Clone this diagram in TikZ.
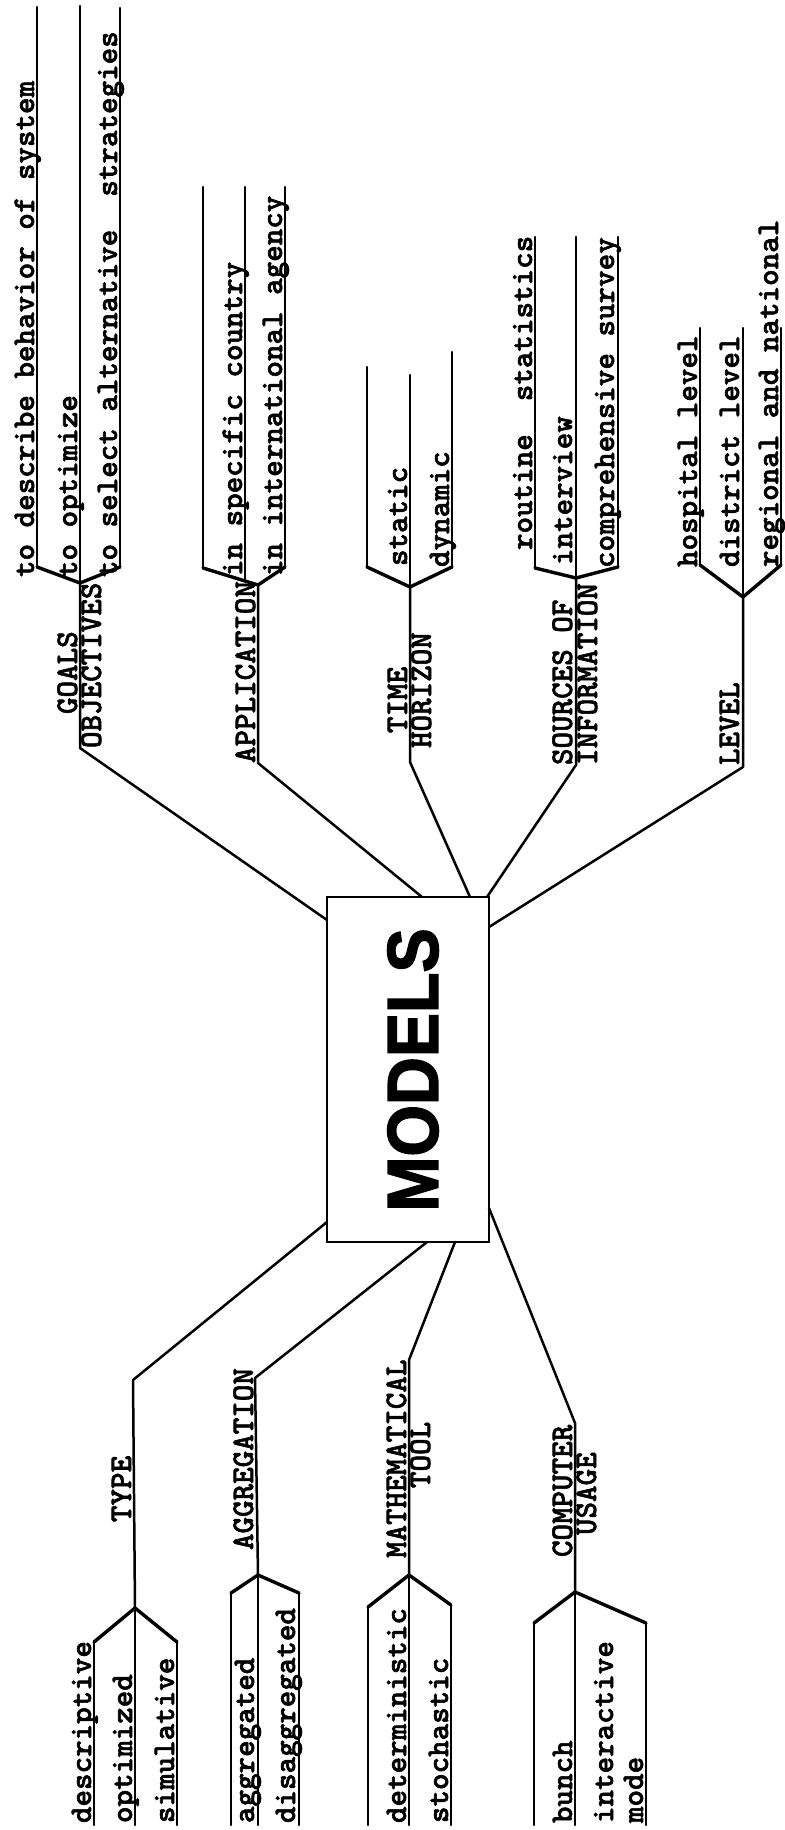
\documentclass[tikz,border=0pt]{standalone}
\usepackage{fontspec}
\usepackage{graphicx}
\newfontfamily\tw{lmmonolt10-bold.otf}[FakeBold=1.8]
\newfontfamily\hv{Liberation Sans}[BoldFeatures={FakeBold=2.2}]
\tikzset{
 ln/.style={line width=2.5pt, line cap=round, line join=round},
 arm/.style={line width=3.4pt, line cap=round, line join=round},
 txt/.style={rotate=90, anchor=base west, inner sep=0pt, outer sep=0pt, font=\tw\fontsize{31.5}{34}\selectfont},
}
\begin{document}
\begin{tikzpicture}[x=1pt,y=1pt]
\useasboundingbox (0,0) rectangle (784,-1830);
\fill[white] (0,0) rectangle (784,-1830);

% central box
\node[draw, line width=2.5pt, anchor=north west, minimum width=162pt, minimum height=345pt, inner sep=0pt, outer sep=0pt] (models) at (327,-897) {};
\node[rotate=90, inner sep=0pt, font=\hv\bfseries\fontsize{72}{72}\selectfont] (title) at (413,-1070) {\scalebox{0.92}[1]{MODELS}};

% ---------- GOALS / OBJECTIVES
\coordinate (gE) at (327,-920);
\coordinate (gB) at (80,-748);
\coordinate (gJ) at (80,-583);
\coordinate (gL) at (37,-567);
\coordinate (gR) at (120,-567);
\coordinate (gLt) at (37,-7);
\coordinate (gMt) at (80,-6);
\coordinate (gRt) at (120,-8);
\draw[ln] (gE) -- (gB) -- (gJ);
\draw[arm] (gL) -- (gJ) -- (gR);
\draw[ln] (gL) -- (gLt);
\draw[ln] (gJ) -- (gMt);
\draw[ln] (gR) -- (gRt);
\node[txt] (g1) at (34,-577) {to describe behavior of system};
\node[txt] (g2) at (77,-577) {to optimize};
\node[txt] (g3) at (117,-577) {to select alternative\ \ strategies};
\node[txt] (gl1) at (77,-714) {GOALS};
\node[txt] (gl2) at (101,-748) {OBJECTIVES};

% ---------- APPLICATION
\coordinate (aE) at (422,-897);
\coordinate (aB) at (258,-763);
\coordinate (aJ) at (258,-585);
\coordinate (aL) at (203,-568);
\coordinate (aR) at (285,-567);
\coordinate (aM) at (245,-581);
\coordinate (aLt) at (203,-187);
\coordinate (aMt) at (245,-187);
\coordinate (aRt) at (285,-187);
\draw[ln] (aE) -- (aB) -- (aJ);
\draw[arm] (aL) -- (aJ) -- (aR);
\draw[ln] (aL) -- (aLt);
\draw[ln] (aM) -- (aMt);
\draw[ln] (aR) -- (aRt);
\node[txt] (a1) at (242,-576) {in specific country};
\node[txt] (a2) at (282,-576) {in international agency};
\node[txt] (al1) at (255,-763) {APPLICATION};

% ---------- TIME HORIZON
\coordinate (tE) at (470,-897);
\coordinate (tB) at (410,-762);
\coordinate (tJ) at (410,-587);
\coordinate (tL) at (367,-567);
\coordinate (tR) at (452,-567);
\coordinate (tLt) at (367,-367);
\coordinate (tMt) at (410,-375);
\coordinate (tRt) at (452,-352);
\draw[ln] (tE) -- (tB) -- (tJ);
\draw[arm] (tL) -- (tJ) -- (tR);
\draw[ln] (tL) -- (tLt);
\draw[ln] (tJ) -- (tMt);
\draw[ln] (tR) -- (tRt);
\node[txt] (t1) at (407,-566) {static};
\node[txt] (t2) at (449,-567) {dynamic};
\node[txt] (tl1) at (407,-733) {TIME};
\node[txt] (tl2) at (431,-748) {HORIZON};

% ---------- SOURCES OF INFORMATION
\coordinate (sE) at (487,-897);
\coordinate (sB) at (576,-765);
\coordinate (sJ) at (576,-578);
\coordinate (sL) at (535,-568);
\coordinate (sR) at (618,-567);
\coordinate (sLt) at (535,-237);
\coordinate (sMt) at (576,-237);
\coordinate (sRt) at (618,-237);
\draw[ln] (sE) -- (sB) -- (sJ);
\draw[arm] (sL) -- (sJ) -- (sR);
\draw[ln] (sL) -- (sLt);
\draw[ln] (sJ) -- (sMt);
\draw[ln] (sR) -- (sRt);
\node[txt] (s1) at (532,-550) {routine\ \ statistics};
\node[txt] (s2) at (572,-565) {interview};
\node[txt] (s3) at (614,-568) {comprehensive survey};
\node[txt] (sl1) at (572,-765) {SOURCES OF};
\node[txt] (sl2) at (597,-765) {INFORMATION};

% ---------- LEVEL
\coordinate (lE) at (489,-927);
\coordinate (lB) at (743,-767);
\coordinate (lJ) at (743,-597);
\coordinate (lL) at (700,-565);
\coordinate (lR) at (781,-565);
\coordinate (lLt) at (700,-328);
\coordinate (lMt) at (743,-328);
\coordinate (lRt) at (781,-328);
\draw[ln] (lE) -- (lB) -- (lJ);
\draw[arm] (lL) -- (lJ) -- (lR);
\draw[ln] (lL) -- (lLt);
\draw[ln] (lJ) -- (lMt);
\draw[ln] (lR) -- (lRt);
\node[txt] (l1) at (697,-567) {hospital level};
\node[txt] (l2) at (739,-567) {district level};
\node[txt] (l3) at (778,-567) {regional and national};
\node[txt] (ll1) at (739,-765) {LEVEL};

% ---------- TYPE
\coordinate (yE) at (327,-1222);
\coordinate (yB) at (133,-1380);
\coordinate (yJ) at (135,-1608);
\coordinate (yL) at (94,-1642);
\coordinate (yR) at (177,-1642);
\coordinate (yLb) at (94,-1825);
\coordinate (yMb) at (135,-1825);
\coordinate (yRb) at (177,-1825);
\draw[ln] (yE) -- (yB) -- (yJ);
\draw[arm] (yL) -- (yJ) -- (yR);
\draw[ln] (yL) -- (yLb);
\draw[ln] (yJ) -- (yMb);
\draw[ln] (yR) -- (yRb);
\node[txt] (y1) at (91,-1823) {descriptive};
\node[txt] (y2) at (132,-1823) {optimized};
\node[txt] (y3) at (174,-1823) {simulative};
\node[txt] (yl1) at (131,-1522) {TYPE};

% ---------- AGGREGATION
\coordinate (rE) at (427,-1242);
\coordinate (rB) at (255,-1378);
\coordinate (rJ) at (258,-1575);
\coordinate (rL) at (231,-1593);
\coordinate (rR) at (299,-1593);
\coordinate (rLb) at (231,-1825);
\coordinate (rMb) at (258,-1825);
\coordinate (rRb) at (299,-1825);
\draw[ln] (rE) -- (rB) -- (rJ);
\draw[arm] (rL) -- (rJ) -- (rR);
\draw[ln] (rL) -- (rLb);
\draw[ln] (rJ) -- (rMb);
\draw[ln] (rR) -- (rRb);
\node[txt] (r1) at (254,-1823) {aggregated};
\node[txt] (r2) at (295,-1823) {disaggregated};
\node[txt] (rl1) at (253,-1550) {AGGREGATION};

% ---------- MATHEMATICAL TOOL
\coordinate (mE) at (455,-1242);
\coordinate (mB) at (409,-1360);
\coordinate (mJ) at (409,-1575);
\coordinate (mL) at (368,-1607);
\coordinate (mR) at (451,-1605);
\coordinate (mLb) at (368,-1825);
\coordinate (mMb) at (409,-1825);
\coordinate (mRb) at (451,-1825);
\draw[ln] (mE) -- (mB) -- (mJ);
\draw[arm] (mL) -- (mJ) -- (mR);
\draw[ln] (mL) -- (mLb);
\draw[ln] (mJ) -- (mMb);
\draw[ln] (mR) -- (mRb);
\node[txt] (m1) at (406,-1823) {deterministic};
\node[txt] (m2) at (448,-1823) {stochastic};
\node[txt] (ml1) at (406,-1558) {MATHEMATICAL};
\node[txt] (ml2) at (430,-1488) {TOOL};

% ---------- COMPUTER USAGE
\coordinate (cE) at (489,-1208);
\coordinate (cB) at (575,-1423);
\coordinate (cJ) at (575,-1592);
\coordinate (cL) at (534,-1623);
\coordinate (cR) at (646,-1623);
\coordinate (cLb) at (534,-1825);
\coordinate (cMb) at (575,-1825);
\coordinate (cRb) at (646,-1825);
\draw[ln] (cE) -- (cB) -- (cJ);
\draw[arm] (cL) -- (cJ) -- (cR);
\draw[ln] (cL) -- (cLb);
\draw[ln] (cJ) -- (cMb);
\draw[ln] (cR) -- (cRb);
\node[txt] (c1) at (572,-1823) {bunch};
\node[txt] (c2) at (613,-1823) {interactive};
\node[txt] (c3) at (643,-1823) {mode};
\node[txt] (cl1) at (572,-1557) {COMPUTER};
\node[txt] (cl2) at (596,-1535) {USAGE};
\end{tikzpicture}
\end{document}
